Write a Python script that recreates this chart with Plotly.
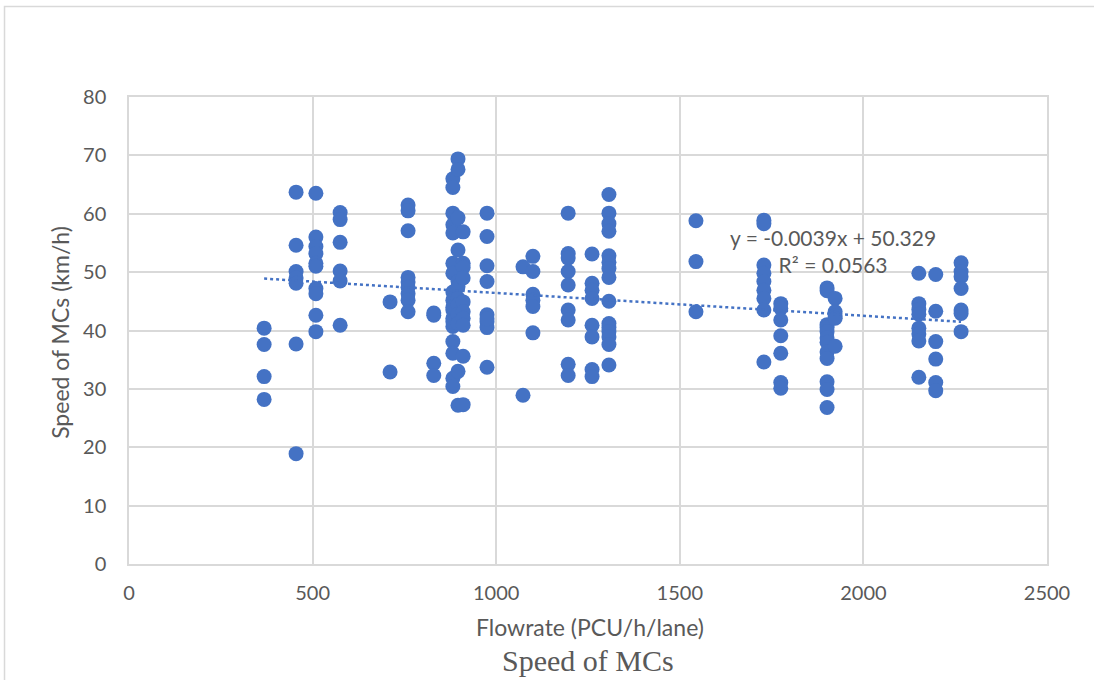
import plotly.graph_objects as go

# Flowrate (PCU/h/lane) and Speed of MCs (km/h)
flow = (
    [368] * 4
    + [455] * 7
    + [509] * 10
    + [575] * 6
    + [711] * 2
    + [760] * 9
    + [830] * 4
    + [882] * 18
    + [896] * 12
    + [910] * 10
    + [975] * 9
    + [1073] * 2
    + [1100] * 6
    + [1196] * 9
    + [1261] * 8
    + [1307] * 15
    + [1544] * 3
    + [1729] * 9
    + [1775] * 7
    + [1901] * 12
    + [1923] * 5
    + [2151] * 8
    + [2197] * 6
    + [2266] * 7
)
speed = (
    [40.4, 37.6, 32.1, 28.2]
    + [63.7, 54.6, 50.1, 49.0, 48.1, 37.7, 18.9]
    + [63.5, 56.0, 54.4, 53.2, 51.5, 51.0, 47.2, 46.3, 42.6, 39.8]
    + [60.2, 59.0, 55.1, 50.2, 48.5, 40.9]
    + [44.9, 32.9]
    + [61.5, 60.5, 57.1, 49.1, 48.3, 47.4, 46.3, 45.2, 43.2]
    + [43.0, 42.6, 34.4, 32.3]
    + [66.0, 64.5, 60.1, 58.1, 56.7, 51.5, 49.8, 46.6, 45.2, 43.5, 42.1, 40.7, 38.1, 36.1, 31.8, 30.4, 41.5, 44.0]
    + [69.4, 67.6, 59.3, 53.8, 48.4, 47.5, 45.5, 44.4, 42.8, 41.2, 33.0, 27.2]
    + [56.9, 51.5, 50.8, 44.9, 43.2, 42.1, 40.9, 35.6, 27.3, 49.0]
    + [60.1, 56.1, 51.1, 48.4, 42.7, 41.5, 40.5, 33.7, 42.0]
    + [50.9, 28.9]
    + [52.7, 50.1, 46.2, 45.2, 44.1, 39.6]
    + [60.1, 53.2, 52.4, 50.1, 47.8, 43.5, 41.8, 34.2, 32.3]
    + [53.1, 48.1, 46.9, 45.5, 40.9, 38.9, 33.3, 32.1]
    + [63.3, 60.1, 58.3, 57.0, 52.8, 51.7, 50.6, 49.1, 45.0, 41.2, 40.5, 39.8, 38.9, 37.6, 34.1]
    + [58.8, 51.8, 43.2]
    + [58.9, 58.3, 51.2, 49.8, 48.4, 46.9, 45.5, 43.5, 34.6]
    + [44.6, 43.8, 41.8, 39.1, 36.1, 31.1, 30.1]
    + [47.3, 46.8, 41.0, 40.5, 39.8, 38.7, 38.0, 36.3, 35.2, 31.2, 29.9, 26.8]
    + [45.5, 43.2, 42.5, 42.1, 37.3]
    + [49.8, 44.6, 43.6, 42.8, 40.4, 39.4, 38.2, 32.0]
    + [49.6, 43.3, 38.1, 35.1, 31.1, 29.7]
    + [51.6, 50.1, 49.2, 47.2, 43.5, 42.9, 39.8]
)

# Linear trend line shown on the chart
slope = -0.0039
intercept = 50.329
r_squared = 0.0563
trend_x = [min(flow), max(flow)]
trend_y = [slope * v + intercept for v in trend_x]

x_ticks = [0, 500, 1000, 1500, 2000, 2500]
y_ticks = [0, 10, 20, 30, 40, 50, 60, 70, 80]

blue = "#4472C4"
grey_text = "#595959"
grid = "#D9D9D9"
font_family = "Lato, 'Open Sans', sans-serif"

fig = go.Figure()
fig.add_trace(go.Scatter(
    x=flow, y=speed, mode="markers",
    marker=dict(color=blue, size=15, line=dict(width=0)),
    showlegend=False, hoverinfo="x+y",
))
fig.add_trace(go.Scatter(
    x=trend_x, y=trend_y, mode="lines",
    line=dict(color=blue, width=2.5, dash="dot"),
    showlegend=False, hoverinfo="skip",
))

fig.add_annotation(
    x=1917, y=53.6, xref="x", yref="y",
    text=f"y = {slope}x + {intercept}<br>R² = {r_squared}",
    showarrow=False, align="center",
    font=dict(family=font_family, size=21, color=grey_text),
)

# axis titles
fig.add_annotation(
    x=0.502, y=-0.135, xref="paper", yref="paper",
    text="Flowrate (PCU/h/lane)", showarrow=False,
    font=dict(family=font_family, size=23, color=grey_text),
    xanchor="center", yanchor="middle",
)
fig.add_annotation(
    x=-0.0752, y=0.497, xref="paper", yref="paper",
    text="Speed of MCs (km/h)", showarrow=False, textangle=-90,
    font=dict(family=font_family, size=23, color=grey_text),
    xanchor="center", yanchor="middle",
)

fig.add_annotation(
    x=0.5, y=-0.2056, xref="paper", yref="paper",
    text="Speed of MCs", showarrow=False,
    font=dict(family="'Liberation Serif', 'Times New Roman', serif", size=30, color=grey_text),
    xanchor="center", yanchor="middle",
)

# outer chart frame
fig.add_shape(
    type="rect", xref="paper", yref="paper",
    x0=-0.1356, x1=1.2, y0=-0.5, y1=1.1938,
    line=dict(color="#D9D9D9", width=1.5), fillcolor="rgba(0,0,0,0)", layer="below",
)

fig.update_layout(
    width=1094, height=680,
    margin=dict(l=129, r=47, t=97, b=116),
    paper_bgcolor="white", plot_bgcolor="white",
    font=dict(family=font_family, color=grey_text),
    xaxis=dict(
        range=[0, 2500], tickvals=x_ticks, showgrid=True, gridcolor=grid, gridwidth=1.5,
        zeroline=False, showline=True, linecolor=grid, linewidth=1.5, mirror=True,
        tickfont=dict(size=20, color=grey_text),
        ticks="outside", ticklen=10, tickcolor="rgba(0,0,0,0)",
    ),
    yaxis=dict(
        range=[0, 80], tickvals=y_ticks, showgrid=True, gridcolor=grid, gridwidth=1.5,
        zeroline=False, showline=True, linecolor=grid, linewidth=1.5, mirror=True,
        tickfont=dict(size=20, color=grey_text),
        ticks="outside", ticklen=17, tickcolor="rgba(0,0,0,0)",
    ),
)

fig.write_html(
    "out.html",
    config={"displayModeBar": False},
    post_script="document.body.style.margin='0';document.body.style.overflow='hidden';",
)
